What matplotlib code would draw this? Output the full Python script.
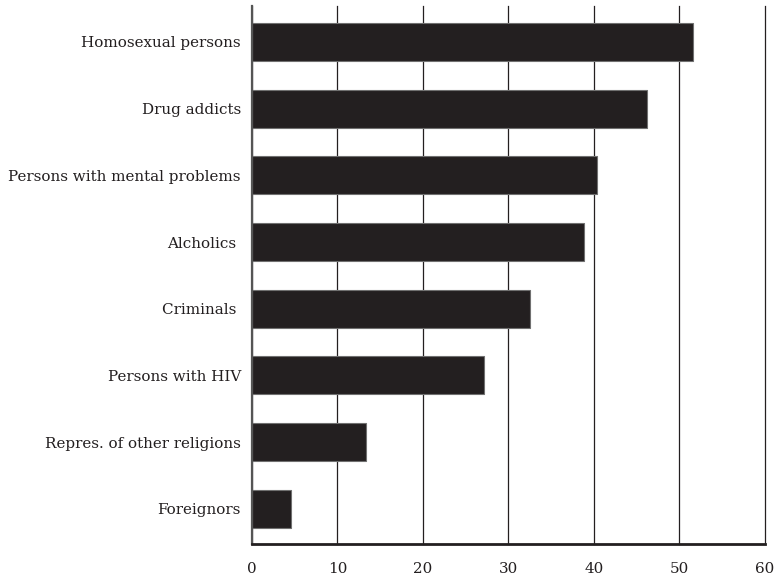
import matplotlib
matplotlib.use("Agg")
import matplotlib.pyplot as plt

# groups, listed top to bottom as in the chart
groups = ["Homosexual persons", "Drug addicts", "Persons with mental problems",
          "Alcholics ", "Criminals ", "Persons with HIV",
          "Repres. of other religions", "Foreignors"]
shares = [51.6, 46.2, 40.4, 38.8, 32.5, 27.1, 13.4, 4.6]
xticks = [0, 10, 20, 30, 40, 50, 60]

plt.rcParams['font.family'] = ['DejaVu Serif']

fig = plt.figure(figsize=(7.75, 5.8), dpi=100)
ax = fig.add_axes([0.325, 0.0628, 0.662, 0.927])

ypos = list(range(len(groups)))[::-1]
for t in xticks:
    ax.axvline(t, color='#231f20', lw=0.9, zorder=1, clip_on=False)
ax.barh(ypos, shares, height=0.57, color='#231f20', edgecolor='#707070',
        lw=0.8, zorder=2)

ax.set_xlim(0, 60)
ax.set_ylim(-0.52, 7.54)
ax.set_xticks(xticks)
ax.set_xticklabels([str(t) for t in xticks])
ax.set_yticks(ypos)
ax.set_yticklabels(groups)
ax.tick_params(axis='both', length=0, labelsize=10.9, colors='#231f20')
ax.tick_params(axis='x', pad=13)
ax.tick_params(axis='y', pad=8)

ax.spines['top'].set_visible(False)
ax.spines['right'].set_visible(False)
ax.spines['left'].set_color('#555555')
ax.spines['left'].set_linewidth(1.6)
ax.spines['bottom'].set_color('#231f20')
ax.spines['bottom'].set_linewidth(2)

fig.savefig("out.png", dpi=100)
